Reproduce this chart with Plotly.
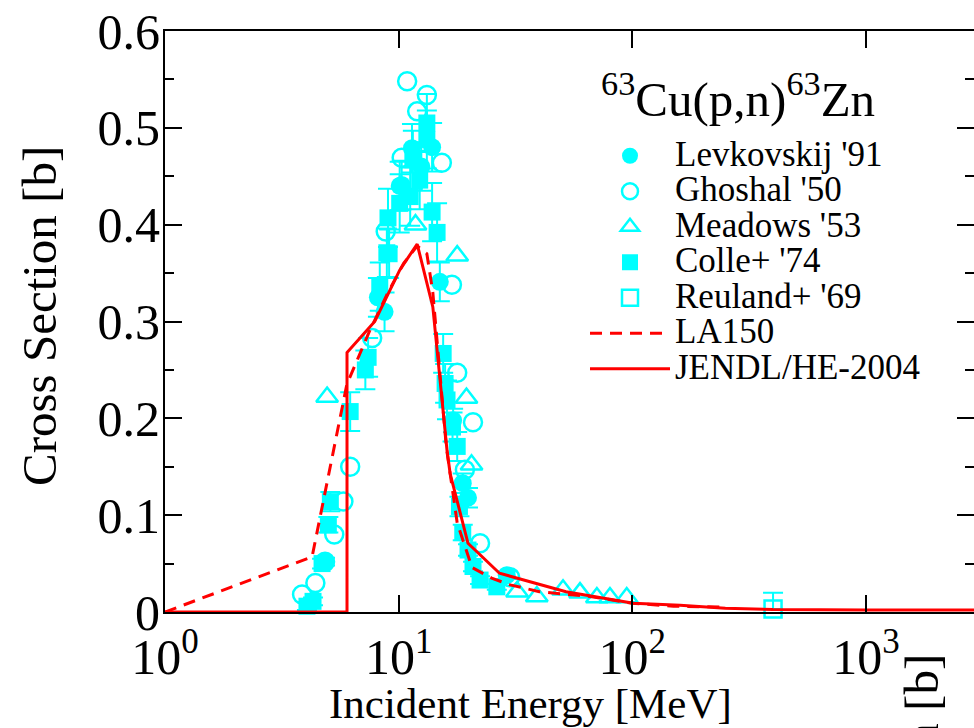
import plotly.graph_objects as go

# ---------------- data ----------------
levk_E = [4.84, 8.15, 8.7, 10.1, 10.3, 11.4, 12.5, 13.9, 15.0, 17.1, 18.8, 19.8, 29.0]
levk_s = [0.052, 0.325, 0.31, 0.44, 0.441, 0.479, 0.46, 0.48, 0.341, 0.198, 0.133, 0.118, 0.038]
levk_err = [0.004, 0.02, 0.02, 0.025, 0.025, 0.025, 0.025, 0.025, 0.02, 0.012, 0.01, 0.01, 0.004]

ghoshal_E = [3.86, 4.4, 4.84, 5.3, 5.8, 6.2, 7.7, 8.8, 10.3, 10.87, 12.0, 13.2, 15.3, 16.9, 17.8, 19.2, 20.8, 22.3, 30.0]
ghoshal_s = [0.018, 0.030, 0.052, 0.080, 0.114, 0.150, 0.283, 0.393, 0.469, 0.548, 0.517, 0.534, 0.464, 0.338, 0.247, 0.147, 0.196, 0.071, 0.036]

meadows_E = [4.94, 11.8, 17.8, 19.5, 20.5, 32.1, 39.0, 50.5, 59.7, 70.5, 80.2, 94.6]
meadows_s = [0.222, 0.40, 0.368, 0.221, 0.152, 0.021, 0.016, 0.023, 0.020, 0.015, 0.015, 0.015]

colle_E = [4.05, 4.3, 4.7, 5.0, 5.1, 6.2, 7.2, 7.4, 8.3, 8.9, 9.0, 9.1, 10.1, 11.2, 11.5, 12.3, 13.2, 13.2, 13.9,
           14.6, 15.5, 15.8, 16.1, 17.0, 17.8, 18.2, 18.8, 19.8, 20.8, 22.3, 26.3]
colle_s = [0.006, 0.011, 0.050, 0.090, 0.114, 0.207, 0.25, 0.263, 0.336, 0.371, 0.407, 0.37, 0.422, 0.429, 0.467,
           0.446, 0.505, 0.488, 0.413, 0.392, 0.267, 0.236, 0.219, 0.191, 0.171, 0.109, 0.082, 0.064, 0.047, 0.033, 0.026]
colle_err = [0.004, 0.004, 0.005, 0.008, 0.01, 0.02, 0.02, 0.02, 0.025, 0.025, 0.03, 0.025, 0.03, 0.03, 0.03,
             0.03, 0.03, 0.03, 0.03, 0.03, 0.02, 0.02, 0.02, 0.015, 0.015, 0.01, 0.008, 0.006, 0.005, 0.004, 0.003]

reuland_E = [400.0]
reuland_s = [0.003]
reuland_err_plus = [0.017]
reuland_err_minus = [0.0]

la150_E = [1.0, 4.26, 6.0, 7.5, 9.0, 10.5, 12.0, 13.2, 14.0, 16.0, 17.8, 20.6, 25.0, 30.0, 40.0, 66.0, 100.0, 150.0, 250.0]
la150_s = [0.0, 0.057, 0.235, 0.29, 0.33, 0.36, 0.378, 0.37, 0.33, 0.17, 0.092, 0.046, 0.035, 0.028, 0.021, 0.016, 0.009, 0.006, 0.005]

jendl_E = [1.0, 6.01, 6.01, 7.9, 10.1, 12.0, 14.0, 16.1, 16.6, 19.8, 27.0, 52.0, 101.0, 160.0, 250.0, 400.0, 1000.0, 3000.0]
jendl_s = [0.0, 0.0, 0.268, 0.30, 0.353, 0.38, 0.315, 0.167, 0.143, 0.071, 0.040, 0.021, 0.009, 0.007, 0.004, 0.0025, 0.002, 0.002]

x_tickvals = [1, 10, 100, 1000]
x_ticktext = ["10<sup>0</sup>", "10<sup>1</sup>", "10<sup>2</sup>", "10<sup>3</sup>"]

# ---------------- style ----------------
CYAN = "#00FFFF"
RED = "#FF0000"
FONT = "Liberation Serif"
MS = 17


def big(s):
    return '<span style="font-size:35px">' + s + '</span>'


fig = go.Figure()

fig.add_trace(go.Scatter(
    x=levk_E, y=levk_s, mode="markers", name=big("Levkovskij '91"),
    marker=dict(symbol="circle", size=MS + 1, color=CYAN),
    error_y=dict(type="data", array=levk_err, color=CYAN, thickness=2, width=10),
    cliponaxis=False))

fig.add_trace(go.Scatter(
    x=ghoshal_E, y=ghoshal_s, mode="markers", name=big("Ghoshal '50"),
    marker=dict(symbol="circle-open", size=MS + 1, color=CYAN, line=dict(width=2.5, color=CYAN)),
    cliponaxis=False))

fig.add_trace(go.Scatter(
    x=meadows_E, y=meadows_s, mode="markers", name=big("Meadows '53"),
    marker=dict(symbol="triangle-up-open", size=MS + 2, color=CYAN, line=dict(width=2.5, color=CYAN)),
    cliponaxis=False))

fig.add_trace(go.Scatter(
    x=colle_E, y=colle_s, mode="markers", name=big("Colle+ '74"),
    marker=dict(symbol="square", size=MS, color=CYAN),
    error_y=dict(type="data", array=colle_err, color=CYAN, thickness=2, width=10),
    cliponaxis=False))

fig.add_trace(go.Scatter(
    x=reuland_E, y=reuland_s, mode="markers", name=big("Reuland+ '69"),
    marker=dict(symbol="square-open", size=MS, color=CYAN, line=dict(width=2.5, color=CYAN)),
    error_y=dict(type="data", array=reuland_err_plus, arrayminus=reuland_err_minus,
                 color=CYAN, thickness=2, width=10),
    cliponaxis=False))

fig.add_trace(go.Scatter(
    x=la150_E, y=la150_s, mode="lines", name=big("LA150"),
    line=dict(color=RED, width=3, dash="12px,8px")))

fig.add_trace(go.Scatter(
    x=jendl_E, y=jendl_s, mode="lines", name=big("JENDL/HE-2004"),
    line=dict(color=RED, width=3)))

# invisible trace to carry the mirrored right-hand tick axis
fig.add_trace(go.Scatter(
    x=[jendl_E[0]], y=[jendl_s[0]], yaxis="y2", mode="markers",
    marker=dict(opacity=0), showlegend=False, hoverinfo="skip"))

fig.update_layout(
    width=974, height=728,
    margin=dict(l=165, r=0, t=31, b=116),
    paper_bgcolor="white", plot_bgcolor="white",
    font=dict(family=FONT, color="black", size=40),
    showlegend=True,
    legend=dict(
        x=(585 - 165) / 809, y=(612 - 133) / 581, xanchor="left", yanchor="top",
        bgcolor="rgba(0,0,0,0)", borderwidth=0,
        font=dict(family=FONT, size=25, color="black"),
        itemwidth=80, tracegroupgap=0,
    ),
    xaxis=dict(
        type="log", range=[0, 3.462],
        tickvals=x_tickvals, ticktext=x_ticktext,
        ticks="inside", ticklen=17, tickwidth=2, tickcolor="black",
        showline=True, linecolor="black", linewidth=2, mirror="ticks",
        showgrid=False, zeroline=False,
        tickfont=dict(family=FONT, size=50),
    ),
    yaxis=dict(
        range=[0, 0.6], dtick=0.1, tick0=0,
        ticks="inside", ticklen=17, tickwidth=2, tickcolor="black",
        minor=dict(dtick=0.05, ticks="inside", ticklen=9, tickwidth=2, tickcolor="black"),
        showline=True, linecolor="black", linewidth=2, mirror=False,
        showgrid=False, zeroline=False,
        tickfont=dict(family=FONT, size=50),
        ticklabelstandoff=-7,
    ),
    yaxis2=dict(
        overlaying="y", side="right", matches="y", anchor="x",
        ticks="inside", ticklen=17, tickwidth=2, tickcolor="black",
        minor=dict(dtick=0.05, ticks="inside", ticklen=9, tickwidth=2, tickcolor="black"),
        dtick=0.1, tick0=0, showline=False, showgrid=False, zeroline=False,
        showticklabels=False,
    ),
)

# y-axis title
fig.add_annotation(
    text="Cross Section [b]", xref="paper", yref="paper", textangle=-90,
    x=(39 - 165) / 809, y=(612 - 316) / 581, xanchor="center", yanchor="middle",
    showarrow=False, font=dict(family=FONT, size=49, color="black"))

# x-axis title (offset left of the domain centre, as in the source figure)
fig.add_annotation(
    text="Incident Energy [MeV]", xref="paper", yref="paper",
    x=(530 - 165) / 809, y=(612 - 703) / 581, xanchor="center", yanchor="middle",
    showarrow=False, font=dict(family=FONT, size=43, color="black"))

fig.add_annotation(
    text="<sup>63</sup>Cu(p,n)<sup>63</sup>Zn", xref="paper", yref="paper",
    x=(738 - 165) / 809, y=(612 - 95) / 581, xanchor="center", yanchor="middle",
    showarrow=False, font=dict(family=FONT, size=49, color="black"))

# neighbouring panel's y title, cut by the image edge
fig.add_annotation(
    text="Cross Section [b]", xref="paper", yref="paper", textangle=-90,
    x=(921 - 165) / 809, y=(612 - 652) / 581, xanchor="center", yanchor="top",
    showarrow=False, font=dict(family=FONT, size=49, color="black"))

fig.write_html("out.html")
